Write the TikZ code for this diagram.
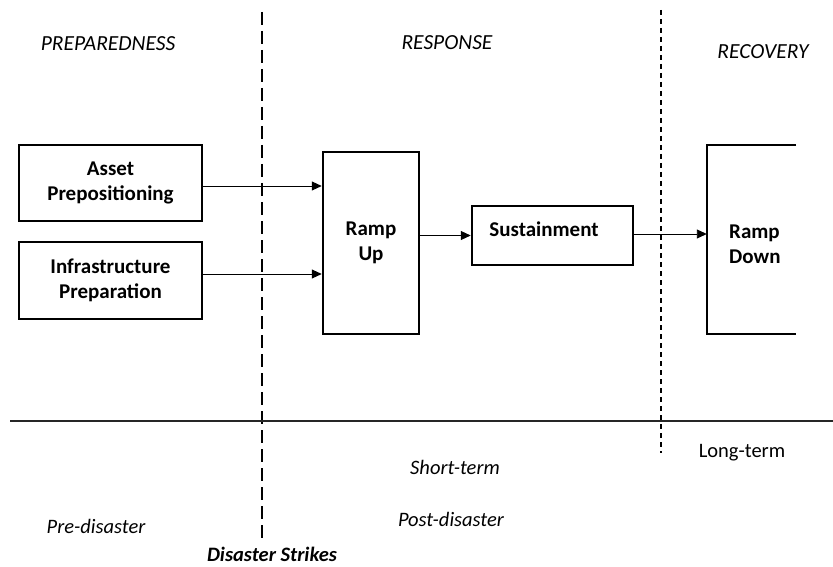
\documentclass[tikz,border=0pt]{standalone}
\usepackage{fontspec}
\setmainfont{Carlito}
\usetikzlibrary{arrows.meta,positioning,calc}
\tikzset{
  procbox/.style={draw, line width=2.5pt, align=center, inner sep=0pt,
    font=\fontsize{21}{25}\selectfont\bfseries},
  phase/.style={font=\fontsize{21.5}{25}\selectfont\itshape, inner sep=0pt},
  timelbl/.style={font=\fontsize{20.5}{24}\selectfont\itshape, inner sep=0pt},
  flow/.style={line width=0.9pt, -{Triangle[length=10pt,width=9pt]}},
  bigdash/.style={line width=2pt, dash pattern=on 13pt off 6pt},
  smalldash/.style={line width=1.3pt, dash pattern=on 5pt off 4pt},
}
\begin{document}
\begin{tikzpicture}[x=1pt,y=-1pt]
\useasboundingbox (0,0) rectangle (833,567);
% phase headings
\node[phase] (prep) at (108,44) {PREPAREDNESS};
\node[phase] (resp) at (447,43) {RESPONSE};
\node[phase] (reco) at (763,52) {RECOVERY};
% dividers
\coordinate (d1t) at (262,12);
\coordinate (d1b) at (262,538);
\coordinate (d2t) at (661,10);
\coordinate (d2b) at (661,453);
\coordinate (hl) at (10,421);
\coordinate (hr) at (833,421);
\draw[bigdash] (d1t) -- (d1b);
\draw[smalldash] (d2t) -- (d2b);
\draw[line width=1.8pt, black!85] (hl) -- (hr);
% boxes
\node[procbox, minimum width=183pt, minimum height=76pt] (asset) at (110.5,183) {Asset\\Prepositioning};
\node[procbox, minimum width=183pt, minimum height=77pt] (infra) at (110.5,280.5) {Infrastructure\\Preparation};
\node[procbox, minimum width=96pt, minimum height=182pt] (rampup) at (371,243) {Ramp\\Up};
\node[draw, line width=2.5pt, inner sep=0pt, minimum width=161pt, minimum height=59pt] (sust) at (552.5,235.5) {};
\node[font=\fontsize{21}{25}\selectfont\bfseries, inner sep=0pt] (sustlbl) at (544,229) {Sustainment};
\node[inner sep=0pt, minimum width=89pt, minimum height=189pt] (rampdown) at (751.5,239.5) {};
\draw[line width=2.5pt] (rampdown.north east) -- (rampdown.north west) -- (rampdown.south west) -- (rampdown.south east);
\node[font=\fontsize{21}{25}\selectfont\bfseries, align=left, inner sep=0pt, anchor=west] (rdlbl) at (729,244) {Ramp\\Down};
% connectors
\draw[flow] ([yshift=-3pt]asset.east) -- ([yshift=-3pt]asset.east -| rampup.west);
\draw[flow] ([yshift=6.5pt]infra.east) -- ([yshift=6.5pt]infra.east -| rampup.west);
\draw[flow] (rampup.east |- sust.west) -- (sust.west);
\draw[flow] ([yshift=1.5pt]sust.east) -- ([yshift=1.5pt]sust.east -| rampdown.west);
% time labels
\node[timelbl] (short) at (455,467) {Short-term};
\node[timelbl] (post) at (451,519) {Post-disaster};
\node[timelbl] (pre) at (96,526) {Pre-disaster};
\node[timelbl, font=\fontsize{20.5}{24}\selectfont\bfseries\itshape] (strike) at (272,554) {Disaster Strikes};
\node[font=\fontsize{20.5}{24}\selectfont, inner sep=0pt] (long) at (742,453) {Long-term};
\end{tikzpicture}
\end{document}
